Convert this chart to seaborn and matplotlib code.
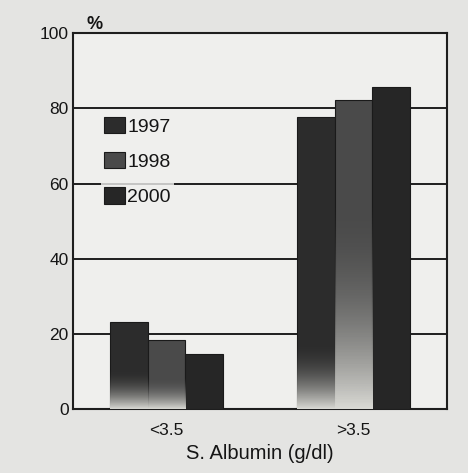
import matplotlib
matplotlib.use("Agg")
import matplotlib.pyplot as plt
import seaborn as sns
import pandas as pd
import numpy as np

# values
categories = ["<3.5", ">3.5"]
years = ["1997", "1998", "2000"]
pct_1997 = [23.2, 77.6]
pct_1998 = [18.4, 82.1]
pct_2000 = [14.7, 85.6]
yticks = [0, 20, 40, 60, 80, 100]

df = pd.DataFrame({
    "albumin": categories * 3,
    "year": [y for y in years for _ in categories],
    "pct": pct_1997 + pct_1998 + pct_2000,
})

sns.set_theme(style="white")
plt.rcParams["font.family"] = ["Liberation Sans", "DejaVu Sans"]

fig = plt.figure(figsize=(4.68, 4.73), dpi=100)
fig.patch.set_facecolor("#e4e4e2")
ax = fig.add_axes([0.156, 0.135, 0.799, 0.795])
ax.set_facecolor("#efefed")

palette = {"1997": "#2c2c2c", "1998": "#4a4a4a", "2000": "#262626"}
sns.barplot(data=df, x="albumin", y="pct", hue="year", order=categories,
            hue_order=years, palette=palette, width=0.6, saturation=1,
            edgecolor="#1a1a1a", linewidth=0.8, ax=ax, zorder=3)

# fade toward the bottom of the lighter bars like the halftone print
fade = {"1997": 0.18, "1998": 0.55, "2000": 0.0}
for cont, yr in zip(ax.containers, years):
    if fade[yr] == 0:
        continue
    for bar in cont:
        x0, w, h = bar.get_x(), bar.get_width(), bar.get_height()
        top = min(h, 100 * fade[yr] if h > 50 else h * 0.45)
        grad = np.linspace(1, 0, 64).reshape(-1, 1)
        im = ax.imshow(grad, extent=(x0, x0 + w, 0, top), origin="lower",
                       cmap=matplotlib.colors.LinearSegmentedColormap.from_list(
                           "f", [bar.get_facecolor()[:3] + (0.0,), (0.85, 0.85, 0.83, 1.0)]),
                       aspect="auto", zorder=3.5, interpolation="bilinear")
        im.set_clip_path(bar)

ink = "#151515"
ax.set_xlim(-0.5, 1.5)
ax.set_ylim(0, 100)
ax.set_aspect("auto")
ax.set_yticks(yticks)
ax.set_yticklabels([str(t) for t in yticks], fontsize=12.5, color=ink)
ax.tick_params(axis="y", length=0, pad=3)
ax.tick_params(axis="x", direction="in", length=4, width=1.2, color=ink,
               labelsize=12.5, labelcolor=ink, pad=10, bottom=True)

for yv in yticks[1:-1]:
    ax.axhline(yv, color="#1e1e1e", linewidth=1.4, zorder=1)

for s in ax.spines.values():
    s.set_visible(True)
    s.set_color("#1e1e1e")
    s.set_linewidth(1.5)

ax.set_xlabel("S. Albumin (g/dl)", fontsize=14.5, color=ink, labelpad=4)
ax.set_ylabel("")
ax.text(0.035, 1.0, "%", transform=ax.transAxes, fontsize=13,
        fontweight="bold", color=ink, va="bottom")

handles, labels = ax.get_legend_handles_labels()
leg = ax.legend(handles, labels, loc="upper left", bbox_to_anchor=(0.075, 0.785),
                frameon=True, fontsize=14, handlelength=1.1, handleheight=0.9,
                handletextpad=0.1, labelspacing=0.85, borderpad=0.15,
                borderaxespad=0, labelcolor=ink)
leg.get_frame().set_facecolor("#efefed")
leg.get_frame().set_edgecolor("none")
leg.set_zorder(4)

fig.savefig("out.png", dpi=100, facecolor=fig.get_facecolor())
